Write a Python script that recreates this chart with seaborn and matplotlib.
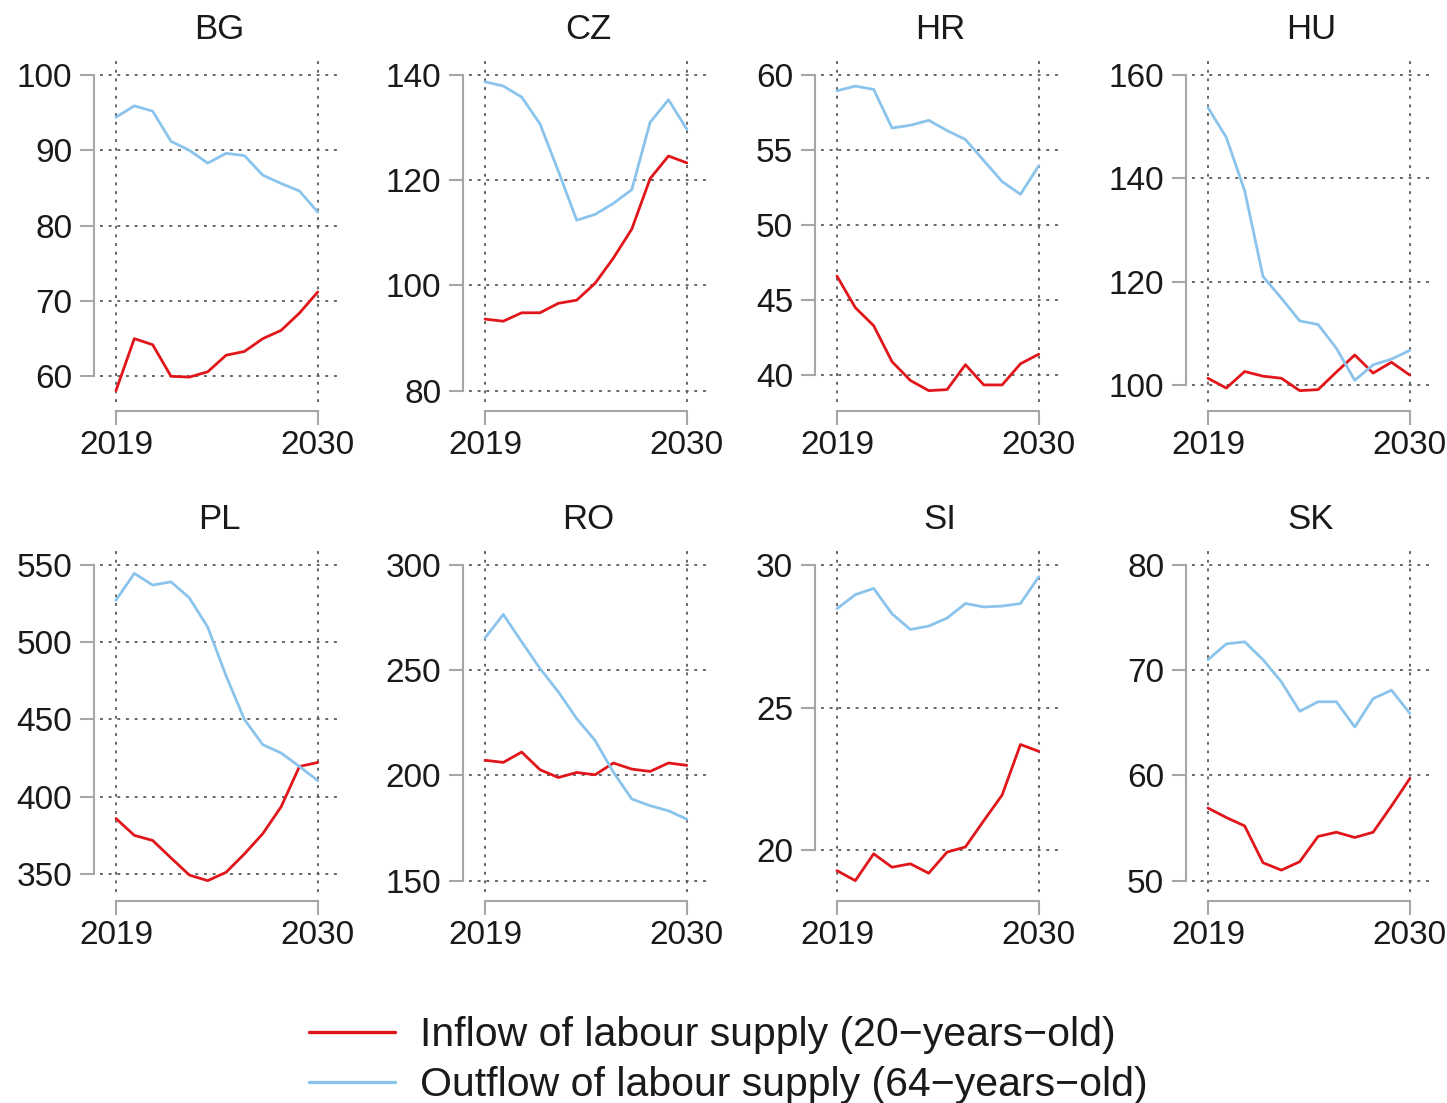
import numpy as np
import pandas as pd
import seaborn as sns
import matplotlib.pyplot as plt
from matplotlib.lines import Line2D

years = list(range(2019, 2031))
countries = ["BG", "CZ", "HR", "HU", "PL", "RO", "SI", "SK"]

# inflow of labour supply (20-years-old), thousands
inflow_bg = [58.1, 65.0, 64.2, 60.0, 59.9, 60.6, 62.8, 63.3, 65.0, 66.1, 68.4, 71.2]
inflow_cz = [93.6, 93.2, 94.8, 94.8, 96.6, 97.2, 100.4, 105.2, 110.7, 120.3, 124.6, 123.3]
inflow_hr = [46.6, 44.5, 43.3, 40.9, 39.65, 38.97, 39.04, 40.7, 39.35, 39.35, 40.76, 41.4]
inflow_hu = [101.3, 99.4, 102.6, 101.7, 101.3, 98.9, 99.1, 102.5, 105.8, 102.3, 104.4, 101.9]
inflow_pl = [385.9, 375.0, 371.7, 360.4, 349.3, 345.7, 351.1, 363.0, 376.1, 393.5, 419.6, 422.2]
inflow_ro = [207.2, 206.2, 211.1, 202.7, 199.0, 201.4, 200.3, 205.9, 203.0, 201.9, 205.9, 204.8]
inflow_si = [19.29, 18.94, 19.88, 19.41, 19.53, 19.2, 19.94, 20.12, 21.04, 21.94, 23.71, 23.47]
inflow_sk = [56.9, 56.0, 55.2, 51.7, 51.0, 51.8, 54.2, 54.6, 54.1, 54.6, 57.1, 59.7]

# outflow of labour supply (64-years-old), thousands
outflow_bg = [94.4, 95.9, 95.2, 91.2, 90.0, 88.3, 89.6, 89.3, 86.7, 85.6, 84.6, 81.8]
outflow_cz = [138.7, 137.9, 135.8, 130.7, 121.7, 112.4, 113.5, 115.6, 118.2, 131.0, 135.3, 129.7]
outflow_hr = [58.95, 59.26, 59.04, 56.47, 56.65, 56.98, 56.3, 55.7, 54.3, 52.9, 52.05, 53.96]
outflow_hu = [153.7, 147.9, 137.6, 121.0, 116.8, 112.4, 111.7, 107.1, 100.9, 103.9, 105.0, 106.7]
outflow_pl = [527.2, 544.6, 537.0, 539.1, 528.7, 509.8, 478.3, 450.0, 433.7, 428.3, 419.6, 410.4]
outflow_ro = [265.3, 276.5, 263.5, 250.8, 239.7, 227.0, 216.6, 201.5, 188.8, 185.6, 183.2, 179.2]
outflow_si = [28.47, 28.96, 29.18, 28.29, 27.74, 27.86, 28.14, 28.65, 28.53, 28.56, 28.65, 29.59]
outflow_sk = [71.0, 72.5, 72.7, 71.0, 68.9, 66.1, 67.0, 67.0, 64.6, 67.3, 68.1, 65.9]

# y tick labels per panel
yticks_bg = [60, 70, 80, 90, 100]
yticks_cz = [80, 100, 120, 140]
yticks_hr = [40, 45, 50, 55, 60]
yticks_hu = [100, 120, 140, 160]
yticks_pl = [350, 400, 450, 500, 550]
yticks_ro = [150, 200, 250, 300]
yticks_si = [20, 25, 30]
yticks_sk = [50, 60, 70, 80]

inflow = [inflow_bg, inflow_cz, inflow_hr, inflow_hu, inflow_pl, inflow_ro, inflow_si, inflow_sk]
outflow = [outflow_bg, outflow_cz, outflow_hr, outflow_hu, outflow_pl, outflow_ro, outflow_si, outflow_sk]
yticks = [yticks_bg, yticks_cz, yticks_hr, yticks_hu, yticks_pl, yticks_ro, yticks_si, yticks_sk]

lab_in = "Inflow of labour supply (20\u2212years\u2212old)"
lab_out = "Outflow of labour supply (64\u2212years\u2212old)"
palette = {lab_in: "#E0161B", lab_out: "#8AC4EC"}

sns.set_style("white")
plt.rcParams["font.family"] = ["Liberation Sans", "DejaVu Sans"]

W, H = 1447, 1103
fig = plt.figure(figsize=(W / 100, H / 100), dpi=100)

col_left = [100, 469, 821, 1192]
row_top = [57, 547]
box_w, box_h = 238, 345

grid_kw = dict(color="#5a5a5a", linestyle=(0, (1.6, 3.2)), linewidth=1.3)
axis_grey = "#A6A6A6"
text_col = "#1a1a1a"

for i, c in enumerate(countries):
    r, k = divmod(i, 4)
    left = col_left[k]
    top = row_top[r]
    ax = fig.add_axes([left / W, 1 - (top + box_h) / H, box_w / W, box_h / H])

    df = pd.DataFrame({
        "year": years * 2,
        "value": inflow[i] + outflow[i],
        "series": [lab_in] * len(years) + [lab_out] * len(years),
    })
    sns.lineplot(data=df, x="year", y="value", hue="series", palette=palette,
                 linewidth=2.0, legend=False, ax=ax, zorder=3)

    tk = yticks[i]
    lo = min(min(inflow[i]), min(outflow[i]), tk[0])
    hi = max(max(inflow[i]), max(outflow[i]), tk[-1])
    rng = hi - lo
    ax.set_ylim(lo - 0.036 * rng, hi + 0.057 * rng)
    ax.set_xlim(2018.13, 2031.1)
    ax.set_yticks(tk)
    ax.set_xticks([2019, 2030])

    for t in tk:
        ax.axhline(t, **grid_kw, zorder=1)
    for t in [2019, 2030]:
        ax.axvline(t, **grid_kw, zorder=1)

    for s in ["top", "right"]:
        ax.spines[s].set_visible(False)
    for s in ["left", "bottom"]:
        ax.spines[s].set_color(axis_grey)
        ax.spines[s].set_linewidth(1.5)
    ax.spines["left"].set_position(("outward", 4))
    ax.spines["bottom"].set_position(("outward", 6.5))
    ax.spines["left"].set_bounds(tk[0], tk[-1])
    ax.spines["bottom"].set_bounds(2019, 2030)

    ax.tick_params(axis="both", direction="out", length=10, width=1.5,
                   color=axis_grey, labelsize=24, labelcolor=text_col,
                   bottom=True, left=True)
    ax.tick_params(axis="y", pad=6)
    ax.tick_params(axis="x", pad=4)
    ax.set_xlabel("")
    ax.set_ylabel("")
    ax.set_title(c, fontsize=25, pad=13, color=text_col)

handles = [Line2D([], [], color=palette[lab_in], linewidth=2.4),
           Line2D([], [], color=palette[lab_out], linewidth=2.4)]
fig.legend(handles, [lab_in, lab_out], loc="center",
           bbox_to_anchor=(728 / W, 1 - 1060 / H), frameon=False,
           fontsize=29.5, handlelength=2.1, handletextpad=0.6,
           labelspacing=0.3, labelcolor=text_col)

fig.savefig("out.png", dpi=100)
